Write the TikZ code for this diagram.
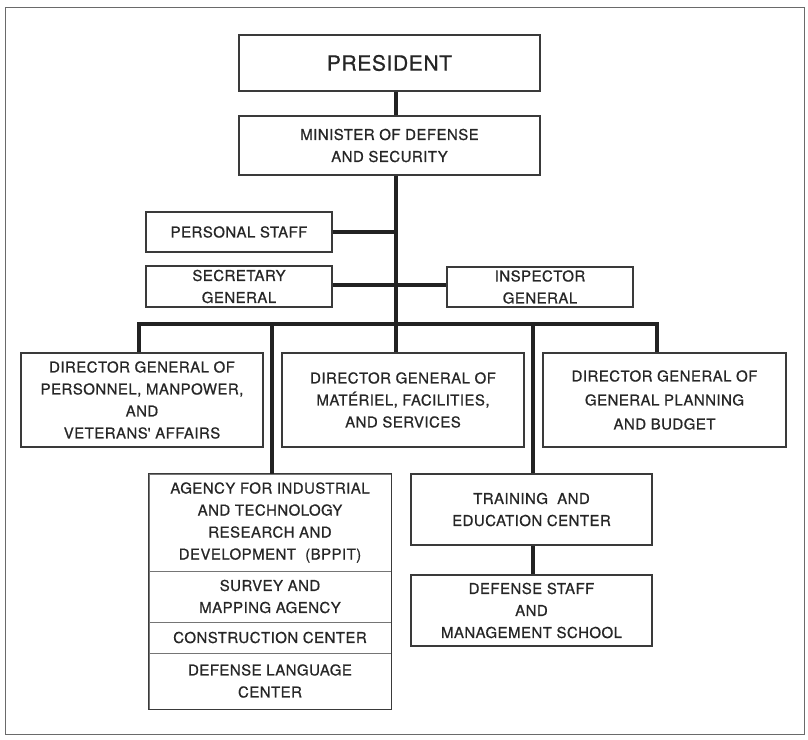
\documentclass[tikz,border=0pt]{standalone}
\usepackage{fontspec}
\setmainfont{TeX Gyre Heros}[LetterSpace=3, FakeBold=0.7]
\definecolor{textcol}{HTML}{262626}
\definecolor{boxcol}{HTML}{3A3A3A}
\definecolor{linecol}{HTML}{222222}
\definecolor{framecol}{HTML}{6A6A6A}
\begin{document}
\begin{tikzpicture}[x=1pt,y=-1pt,
  box/.style={draw=boxcol, line width=1.3pt, fill=white, align=center, inner sep=0pt,
    text=textcol, font=\fontsize{15}{22}\selectfont},
  part/.style={draw=boxcol!70, line width=0.8pt, align=center, inner sep=0pt,
    text=textcol, font=\fontsize{15}{22}\selectfont},
  conn/.style={draw=linecol, line width=3.2pt}]
\useasboundingbox (0,0) rectangle (808,739);
\draw[framecol, line width=1pt] (5,7) rectangle (804,734);

% connector coordinates
\coordinate (t) at (396,0);
\coordinate (bl) at (139,324);
\coordinate (bag) at (272,324);
\coordinate (bm) at (396,324);
\coordinate (btr) at (533,324);
\coordinate (br) at (657,324);

% boxes
\node[box, minimum width=301, minimum height=56, font=\fontsize{21}{24}\selectfont] (pres) at (389.5,63) {PRESIDENT};
\node[box, minimum width=301, minimum height=59] (min) at (389.5,145.5) {MINISTER OF DEFENSE\\AND SECURITY};
\node[box, minimum width=186, minimum height=40] (ps) at (239,232) {PERSONAL STAFF};
\node[box, minimum width=186, minimum height=41] (sg) at (239,286.5) {SECRETARY\\GENERAL};
\node[box, minimum width=186, minimum height=40] (ig) at (540,287) {INSPECTOR\\GENERAL};
\node[box, minimum width=242, minimum height=94] (dg1) at (142,400) {DIRECTOR GENERAL OF\\PERSONNEL, MANPOWER,\\AND\\VETERANS\textquotesingle\ AFFAIRS};
\node[box, minimum width=242, minimum height=94] (dg2) at (403,400) {DIRECTOR GENERAL OF\\MATÉRIEL, FACILITIES,\\AND SERVICES};
\node[box, minimum width=243, minimum height=94, font=\fontsize{15}{24}\selectfont] (dg3) at (664.5,400) {DIRECTOR GENERAL OF\\GENERAL PLANNING\\AND BUDGET};
\node[box, minimum width=241, minimum height=71] (tr) at (531.5,509.5) {TRAINING\ \ AND\\EDUCATION CENTER};
\node[box, minimum width=241, minimum height=71] (ds) at (531.5,610.5) {DEFENSE STAFF\\AND\\MANAGEMENT SCHOOL};

% agency stack
\node[part, minimum width=242, minimum height=97] (ag) at (270,522.5) {AGENCY FOR INDUSTRIAL\\AND TECHNOLOGY\\RESEARCH AND\\DEVELOPMENT\ \ (BPPIT)};
\node[part, minimum width=242, minimum height=51] (sm) at (270,596.5) {SURVEY AND\\MAPPING AGENCY};
\node[part, minimum width=242, minimum height=31] (cc) at (270,637.5) {CONSTRUCTION CENTER};
\node[part, minimum width=242, minimum height=56] (dl) at (270,681) {DEFENSE LANGUAGE\\CENTER};
\draw[boxcol, line width=1.3pt] (ag.north west) rectangle (dl.south east);

% connectors
\draw[conn] (pres.south -| t) -- (min.north -| t);
\draw[conn] (min.south -| t) -- (bm);
\draw[conn] (ps.east) -- (ps.east -| t);
\draw[conn] (sg.east |- 0,285) -- (ig.west |- 0,285);
\draw[conn, line join=miter] (dg1.north -| bl) -- (bl) -- (br) -- (dg3.north -| br);
\draw[conn] (bag) -- (ag.north -| bag);
\draw[conn] (bm) -- (dg2.north -| bm);
\draw[conn] (btr) -- (tr.north -| btr);
\draw[conn] (tr.south -| btr) -- (ds.north -| btr);
\end{tikzpicture}
\end{document}
